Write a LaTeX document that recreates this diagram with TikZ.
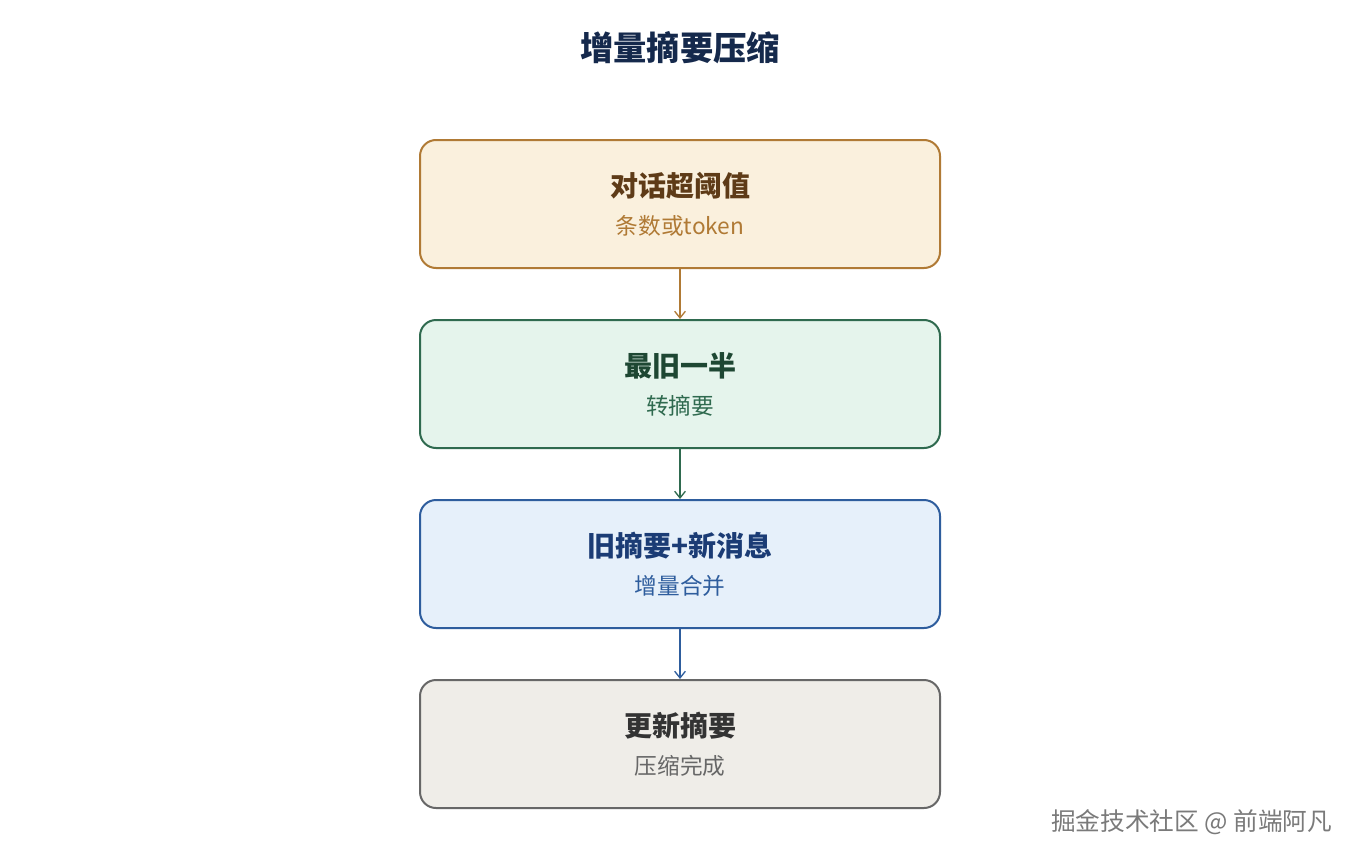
\documentclass[tikz,border=0pt]{standalone}
\usepackage{fontspec}
\setmainfont{Noto Sans CJK SC}
\usetikzlibrary{positioning,arrows.meta}

\definecolor{titlenavy}{HTML}{15294C}
\definecolor{amberfill}{HTML}{FAF0DD}
\definecolor{amberline}{HTML}{B07A35}
\definecolor{amberdark}{HTML}{5E3B17}
\definecolor{mintfill}{HTML}{E5F4EC}
\definecolor{mintline}{HTML}{2F6A4F}
\definecolor{mintdark}{HTML}{1E4733}
\definecolor{skyfill}{HTML}{E6F0FA}
\definecolor{skyline}{HTML}{2E5D9D}
\definecolor{skydark}{HTML}{1B3C75}
\definecolor{stonefill}{HTML}{EFEDE8}
\definecolor{stoneline}{HTML}{676767}
\definecolor{stonedark}{HTML}{333333}
\definecolor{markgray}{HTML}{7A7A7A}

\newcommand{\stagetitle}[2]{\textcolor{#1}{\bfseries\fontsize{21}{25}\selectfont #2}}
\newcommand{\stagesub}[2]{\textcolor{#1}{\fontsize{17}{20}\selectfont #2}}

\tikzset{
    stagebox/.style={draw, line width=1.5pt, rounded corners=12pt,
        minimum width=390pt, minimum height=96pt, align=center, inner sep=0pt},
    flow/.style={line width=1pt, -{Straight Barb[length=5pt, width=8pt, line width=1pt]}}
}

\begin{document}
\begin{tikzpicture}[x=0.75pt, y=-0.75pt, node distance=37.5pt]
    % Canvas
    \useasboundingbox[fill=white] (0,0) rectangle (1360,860);

    % Title
    \node[text=titlenavy, font=\bfseries\fontsize{25}{30}\selectfont] (heading) at (680,48) {增量摘要压缩};

    % Boxes
    \node[stagebox, draw=amberline, fill=amberfill] (threshold) at (680,204)
        {\stagetitle{amberdark}{对话超阈值}\\[11pt] \stagesub{amberline}{条数或token}};
    \node[stagebox, draw=mintline, fill=mintfill, below=of threshold] (oldhalf)
        {\stagetitle{mintdark}{最旧一半}\\[11pt] \stagesub{mintline}{转摘要}};
    \node[stagebox, draw=skyline, fill=skyfill, below=of oldhalf] (merge)
        {\stagetitle{skydark}{旧摘要+新消息}\\[11pt] \stagesub{skyline}{增量合并}};
    \node[stagebox, draw=stoneline, fill=stonefill, below=of merge] (update)
        {\stagetitle{stonedark}{更新摘要}\\[11pt] \stagesub{stoneline}{压缩完成}};

    % Arrows
    \draw[flow, amberline] (threshold) -- (oldhalf);
    \draw[flow, mintline] (oldhalf) -- (merge);
    \draw[flow, skyline] (merge) -- (update);

    % Watermark
    \node[anchor=east, text=markgray, font=\fontsize{18.5}{22}\selectfont] (mark) at (1337,822) {掘金技术社区 @ 前端阿凡};
\end{tikzpicture}
\end{document}
